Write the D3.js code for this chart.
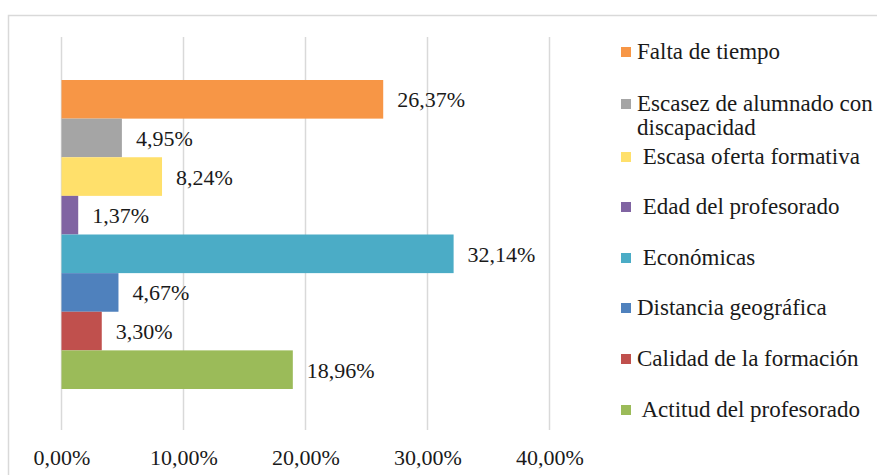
<!DOCTYPE html>
<html>
<head>
<meta charset="utf-8">
<script src="https://cdn.jsdelivr.net/npm/d3@7"></script>
<style>
  body { margin: 0; background: #fff; }
  svg text, svg tspan { font-family: "Liberation Serif", Tinos, "Times New Roman" !important; }
</style>
</head>
<body>
<svg width="877" height="475"></svg>
<script>
var categories = ['Falta de tiempo', 'Escasez de alumnado con discapacidad', 'Escasa oferta formativa',
                  'Edad del profesorado', 'Económicas', 'Distancia geográfica',
                  'Calidad de la formación', 'Actitud del profesorado'];
var values = [0.2637, 0.0495, 0.0824, 0.0137, 0.3214, 0.0467, 0.0330, 0.1896];
var legendLabels = [['Falta de tiempo'], ['Escasez de alumnado con', 'discapacidad'], [' Escasa oferta formativa'],
                    [' Edad del profesorado'], [' Económicas'], ['Distancia geográfica'],
                    ['Calidad de la formación'], [' Actitud del profesorado']];
var colors = ['#f79646', '#a5a5a5', '#ffe06b', '#8064a2', '#4bacc6', '#4f81bd', '#c0504d', '#9bbb59'];
var ticks = [0, 0.1, 0.2, 0.3, 0.4];

var w = 877, h = 475;
var serifStyle = 'font-family: "Liberation Serif", Tinos, "Times New Roman" !important; font-size: 22px; fill: #1a1a1a;';
var legendStyle = 'font-family: "Liberation Serif", Tinos, "Times New Roman" !important; font-size: 23px; fill: #1a1a1a; white-space: pre;';

var locale = d3.formatLocale({decimal: ',', thousands: '.', grouping: [3], currency: ['', '€']});
var pct = locale.format('.2%');

var svg = d3.select('svg')
            .attr('width', w)
            .attr('height', h)
            .attr('font-family', 'Liberation Serif');

// chart border
svg.append('rect')
   .attr('x', 8.5).attr('y', 15.5)
   .attr('width', 880).attr('height', 480)
   .attr('fill', 'none')
   .attr('stroke', '#d9d9d9')
   .attr('stroke-width', 1.5);

var x = d3.scaleLinear()
          .domain([0, 0.4])
          .range([61.5, 549.5]);

var y = d3.scaleBand()
          .domain(categories)
          .range([80, 389])
          .padding(0);

// gridlines
svg.append('g')
   .selectAll('line')
   .data(ticks)
   .enter()
   .append('line')
   .attr('x1', function(d){ return x(d); })
   .attr('x2', function(d){ return x(d); })
   .attr('y1', 37)
   .attr('y2', 430)
   .attr('stroke', '#d9d9d9')
   .attr('stroke-width', 1.5);

// bars
svg.append('g')
   .selectAll('rect')
   .data(categories)
   .enter()
   .append('rect')
   .attr('x', x(0))
   .attr('y', function(d){ return y(d); })
   .attr('width', function(d, i){ return x(values[i]) - x(0); })
   .attr('height', y.bandwidth())
   .attr('fill', function(d, i){ return colors[i]; });

// value labels
svg.append('g')
   .selectAll('text')
   .data(categories)
   .enter()
   .append('text')
   .attr('x', function(d, i){ return x(values[i]) + 14; })
   .attr('y', function(d){ return y(d) + y.bandwidth() / 2 + 8; })
   .attr('style', serifStyle)
   .text(function(d, i){ return pct(values[i]); });

// x axis labels
var xAxis = d3.axisBottom(x)
              .tickValues(ticks)
              .tickSize(0)
              .tickPadding(0)
              .tickFormat(pct);

var axisG = svg.append('g')
               .attr('transform', 'translate(0,449)')
               .call(xAxis)
               .attr('font-family', 'Liberation Serif');
axisG.select('.domain').remove();
axisG.selectAll('text')
     .attr('style', serifStyle);

// legend
var legendY = [52, 104, 157, 207, 258, 308, 359, 410];
var legend = svg.append('g')
                .selectAll('g')
                .data(legendLabels)
                .enter()
                .append('g')
                .attr('transform', function(d, i){ return 'translate(621,' + legendY[i] + ')'; });

legend.append('rect')
      .attr('x', 0).attr('y', -5)
      .attr('width', 10).attr('height', 10)
      .attr('fill', function(d, i){ return colors[i]; });

legend.append('text')
      .attr('x', 16)
      .attr('y', 7)
      .attr('xml:space', 'preserve')
      .attr('style', legendStyle)
      .selectAll('tspan')
      .data(function(d){ return d; })
      .enter()
      .append('tspan')
      .attr('x', 16)
      .attr('dy', function(d, i){ return i === 0 ? 0 : 24; })
      .text(function(d){ return d; });
</script>
</body>
</html>
